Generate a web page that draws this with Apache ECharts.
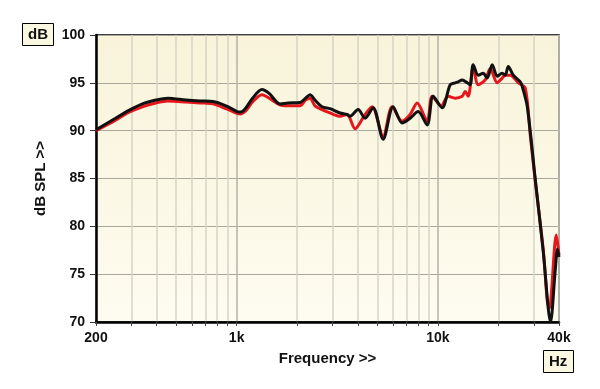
<!DOCTYPE html>
<html>
<head>
<meta charset="utf-8">
<script src="https://cdn.jsdelivr.net/npm/echarts@6/dist/echarts.min.js"></script>
<style>
  html, body { margin: 0; padding: 0; background: #fff; }
  #chart { width: 600px; height: 389px; }
</style>
</head>
<body>
<div id="chart"></div>
<script>
// frequency response, two measurements (Hz / dB SPL)
const freqBlack = [200, 250, 290, 340, 397, 455, 560, 660, 762, 885, 1004, 1050, 1113, 1200, 1336, 1450, 1642, 1800,
  2065, 2200, 2316, 2450, 2658, 2913, 3266, 3538, 3662, 4014, 4350, 4768, 5346, 5995, 6644, 7282, 7980, 8848, 9478,
  10500, 11516, 12194, 12619, 13212, 13992, 14480, 14980, 15870, 16806, 17594, 18632, 19726, 20890, 21620, 22380,
  23702, 25684, 26278, 27826, 30496, 33422, 36300, 38344, 39300, 40000];
const splBlack = [90.1, 91.3, 92.1, 92.8, 93.2, 93.4, 93.2, 93.1, 93.05, 92.6, 92.0, 91.95, 92.4, 93.4, 94.3, 93.9, 92.8, 92.9,
  92.95, 93.4, 93.75, 93.2, 92.5, 92.3, 91.85, 91.7, 91.5, 92.2, 91.3, 92.4, 89.1, 92.5, 90.8, 91.3, 92.0, 90.6, 93.6,
  92.4, 94.8, 95.0, 95.1, 95.3, 95.0, 94.8, 96.9, 95.8, 96.0, 95.5, 96.9, 95.7, 96.0, 95.8, 96.7,
  95.8, 95.1, 94.6, 92.5, 84.9, 77.3, 70.0, 75.5, 77.6, 76.8];

const freqRed = [200, 250, 290, 340, 397, 455, 560, 660, 762, 885, 1004, 1050, 1113, 1200, 1336, 1450, 1642, 1800,
  2065, 2200, 2316, 2450, 2658, 2913, 3266, 3538, 3878, 4350, 4712, 5346, 5926, 6644, 7282, 7890, 8848, 9370,
  10400, 11254, 12194, 13212, 13674, 14154, 14980, 15870, 17196, 18208, 19726, 20890, 21620, 22900, 25100,
  27194, 28796, 30496, 33422, 34988, 35800, 38788, 40000];
const splRed = [90.0, 91.1, 91.9, 92.5, 92.9, 93.1, 93.0, 92.9, 92.8, 92.3, 91.8, 91.75, 92.1, 93.0, 93.75, 93.4, 92.7, 92.6,
  92.6, 93.2, 93.4, 92.6, 92.2, 91.85, 91.5, 91.7, 90.2, 91.7, 92.5, 89.4, 92.5, 91.0, 91.7, 92.9, 91.0, 93.6,
  92.6, 93.6, 93.4, 93.6, 94.1, 93.6, 96.6, 94.8, 95.3, 96.5, 95.0, 95.5, 95.8, 95.8, 95.0,
  94.45, 89.5, 84.7, 77.5, 72.2, 71.4, 79.1, 77.0];

const gridFreqs = [200, 300, 400, 500, 600, 700, 800, 900, 1000, 2000, 3000, 4000, 5000, 6000, 7000, 8000, 9000,
  10000, 20000, 30000, 40000];
const labelFreqs = [200, 1000, 10000, 40000];
const yTicks = [70, 75, 80, 85, 90, 95, 100];

const labelText = (v) => (v >= 1000 ? v / 1000 + 'k' : String(v));

var chart = echarts.init(document.getElementById('chart'));

var option = {
  animation: false,
  backgroundColor: '#fff',
  title: [
    {
      text: 'dB', left: 22, top: 23, padding: [4, 6],
      backgroundColor: '#fbf8e2', borderColor: '#000', borderWidth: 1,
      textStyle: { fontFamily: 'Liberation Sans, Arial', fontWeight: 'bold', fontSize: 15, color: '#111' }
    },
    {
      text: 'Hz', left: 543, top: 350, padding: [4, 6],
      backgroundColor: '#fbf8e2', borderColor: '#000', borderWidth: 1,
      textStyle: { fontFamily: 'Liberation Sans, Arial', fontWeight: 'bold', fontSize: 15, color: '#111' }
    }
  ],
  grid: {
    left: 96, right: 41, top: 35, bottom: 67,
    show: true,
    borderColor: '#000', borderWidth: 1.5,
    backgroundColor: {
      type: 'linear', x: 0, y: 0, x2: 0, y2: 1,
      colorStops: [{ offset: 0, color: '#f8f3d9' }, { offset: 1, color: '#fefcf1' }]
    }
  },
  xAxis: {
    type: 'log', logBase: 10, min: 200, max: 40000,
    name: 'Frequency >>', nameLocation: 'middle', nameGap: 29,
    nameTextStyle: { fontFamily: 'Liberation Sans, Arial', fontWeight: 'bold', fontSize: 15, color: '#111' },
    axisLine: { lineStyle: { color: '#000', width: 2.5 } },
    axisTick: { customValues: gridFreqs, length: 4, lineStyle: { color: '#444' } },
    axisLabel: {
      customValues: labelFreqs, margin: 9,
      fontFamily: 'Liberation Sans, Arial', fontWeight: 'bold', fontSize: 14, color: '#111',
      formatter: labelText
    },
    splitLine: {
      show: true,
      lineStyle: {
        width: 1.5,
        color: gridFreqs.map((f) => (f === 1000 || f === 10000 ? '#b4b2a8' : '#d6d4c6'))
      }
    },
    minorTick: { show: false }
  },
  yAxis: {
    type: 'value', min: 70, max: 100, interval: 5,
    name: 'dB SPL >>', nameLocation: 'middle', nameGap: 48, nameRotate: 90,
    nameTextStyle: { fontFamily: 'Liberation Sans, Arial', fontWeight: 'bold', fontSize: 15, color: '#111' },
    axisLine: { show: true, lineStyle: { color: '#000', width: 2.5 } },
    axisTick: { show: true, length: 6, lineStyle: { color: '#333' } },
    axisLabel: {
      margin: 11,
      fontFamily: 'Liberation Sans, Arial', fontWeight: 'bold', fontSize: 14, color: '#111',
      formatter: (v) => (yTicks.includes(v) ? String(v) : '')
    },
    splitLine: { show: true, lineStyle: { color: '#a9a89f', width: 1 } }
  },
  series: [
    {
      name: 'red', type: 'line', showSymbol: false, smooth: 0.3,
      lineStyle: { color: '#e5161c', width: 3 },
      data: freqRed.map((f, i) => [f, splRed[i]])
    },
    {
      name: 'black', type: 'line', showSymbol: false, smooth: 0.3,
      lineStyle: { color: '#111', width: 3 },
      data: freqBlack.map((f, i) => [f, splBlack[i]])
    }
  ]
};

option && chart.setOption(option);
</script>
</body>
</html>
